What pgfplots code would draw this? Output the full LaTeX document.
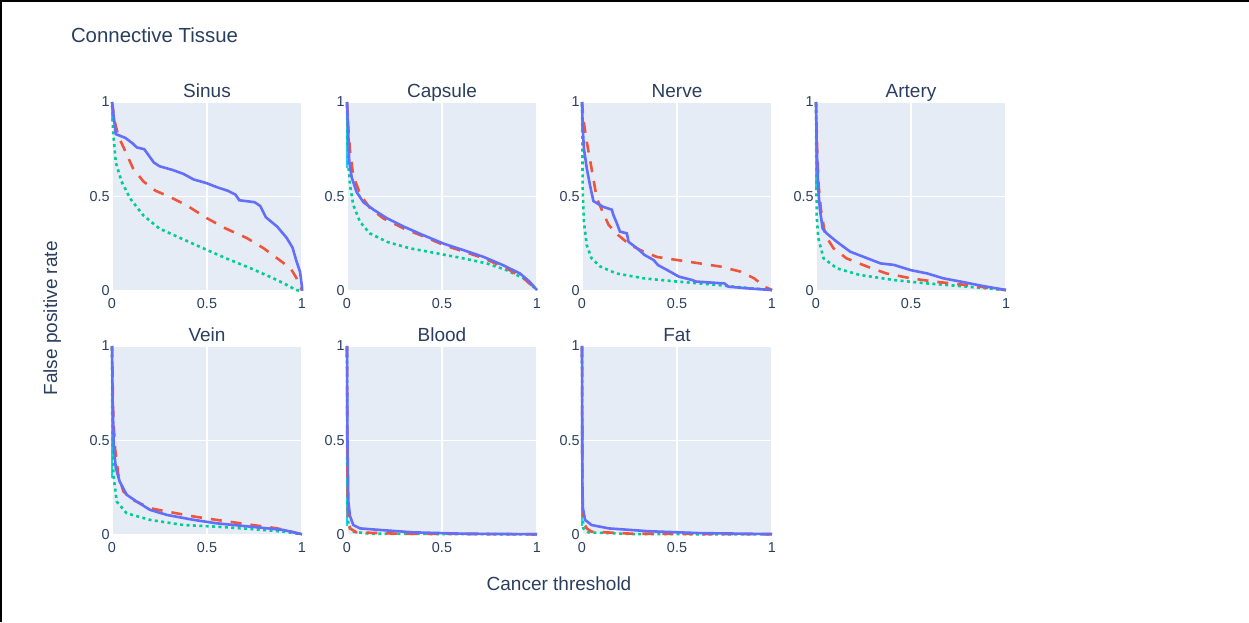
\documentclass[border=0pt]{standalone}
\usepackage{fontspec}
\setmainfont{Liberation Sans}
\usepackage{pgfplots}
\pgfplotsset{compat=1.18}

\definecolor{pbg}{HTML}{E5ECF6}
\definecolor{ptext}{HTML}{2A3F5F}
\definecolor{pblue}{HTML}{636EFA}
\definecolor{pred}{HTML}{EF553B}
\definecolor{pgreen}{HTML}{00CC96}
\definecolor{pcyan}{HTML}{19D3F3}

\pgfplotsset{
  panel/.style={
    anchor=south west,
    scale only axis, width=95pt, height=94.5pt,
    xmin=0, xmax=1, ymin=0, ymax=1,
    xtick={0,0.5,1}, ytick={0,0.5,1},
    major tick length=0pt,
    axis line style={draw=none},
    axis background/.style={fill=pbg},
    grid=major, major grid style={white, line width=0.8pt},
    tick label style={font=\fontsize{7.2}{8}\selectfont, text=ptext},
    /pgf/number format/assume math mode=true,
    xticklabel style={inner ysep=3.5pt},
    yticklabel style={inner xsep=1pt},
    clip=false,
    title style={at={(0.5,1)}, anchor=base, yshift=-4pt,
      font=\fontsize{9.5}{11}\selectfont, text=ptext},
  },
  sA/.style={pblue, line width=1.3pt, solid},
  sB/.style={pred, line width=1.3pt, dash pattern=on 5.5pt off 4.5pt},
  sC/.style={pgreen, line width=1.3pt, dash pattern=on 1.5pt off 1.7pt},
  sD/.style={pcyan, line width=0.9pt},
}

\begin{document}
\begin{tikzpicture}
\path[use as bounding box] (0,0) rectangle (624.5pt,311pt);
\fill[black] (0,309.8pt) rectangle (624.5pt,311pt);
\fill[black] (0,0) rectangle (1pt,311pt);

\node[anchor=base west, inner sep=0pt, font=\fontsize{10.2}{12}\selectfont, text=ptext] at (35.3pt,289.5pt) {Connective Tissue};
\node[anchor=base, rotate=90, font=\fontsize{9.5}{11}\selectfont, text=ptext] at (28.5pt,151.8pt) {False positive rate};
\node[anchor=base, font=\fontsize{9.5}{11}\selectfont, text=ptext] at (279.5pt,16pt) {Cancer threshold};

% Sinus
\begin{axis}[panel, at={(56pt,165.5pt)}, title={Sinus}]
\addplot[sD] coordinates {(0,1)(0,0.9)};
\addplot[sC] coordinates {(0,0.98)(0.007,0.83)(0.02,0.68)(0.05,0.58)(0.095,0.49)(0.165,0.40)(0.25,0.33)(0.36,0.28)(0.50,0.217)(0.60,0.173)(0.73,0.12)(0.85,0.067)(0.92,0.032)(0.97,0.005)(1,0)};
\addplot[sB] coordinates {(0,1)(0.016,0.89)(0.033,0.82)(0.07,0.74)(0.11,0.65)(0.165,0.58)(0.23,0.53)(0.30,0.50)(0.39,0.455)(0.50,0.385)(0.60,0.33)(0.71,0.28)(0.80,0.225)(0.88,0.165)(0.94,0.12)(0.97,0.07)(1,0.005)};
\addplot[sA] coordinates {(0,1)(0.02,0.83)(0.07,0.81)(0.11,0.78)(0.13,0.76)(0.17,0.75)(0.22,0.68)(0.25,0.66)(0.32,0.64)(0.375,0.62)(0.43,0.59)(0.50,0.57)(0.55,0.55)(0.61,0.53)(0.65,0.51)(0.67,0.48)(0.75,0.47)(0.78,0.45)(0.81,0.39)(0.87,0.34)(0.92,0.28)(0.95,0.23)(0.97,0.16)(0.99,0.10)(1,0.02)(1,0)};
\end{axis}

% Capsule
\begin{axis}[panel, at={(173.5pt,165.5pt)}, title={Capsule}]
\addplot[sD] coordinates {(0,1)(0,0.65)};
\addplot[sC] coordinates {(0,0.99)(0.0035,0.77)(0.007,0.667)(0.016,0.56)(0.033,0.455)(0.068,0.367)(0.12,0.305)(0.21,0.26)(0.33,0.226)(0.47,0.2)(0.61,0.173)(0.735,0.146)(0.84,0.11)(0.93,0.067)(0.98,0.023)(1,0.005)};
\addplot[sB] coordinates {(0,1)(0.007,0.86)(0.016,0.74)(0.033,0.61)(0.07,0.51)(0.12,0.44)(0.19,0.385)(0.30,0.33)(0.40,0.29)(0.51,0.243)(0.61,0.21)(0.72,0.173)(0.84,0.12)(0.93,0.067)(0.98,0.023)(1,0.005)};
\addplot[sA] coordinates {(0,1)(0.007,0.825)(0.012,0.685)(0.025,0.60)(0.05,0.525)(0.086,0.47)(0.14,0.43)(0.21,0.385)(0.30,0.34)(0.40,0.296)(0.51,0.25)(0.61,0.217)(0.72,0.18)(0.82,0.137)(0.91,0.093)(0.96,0.05)(1,0.005)};
\end{axis}

% Nerve
\begin{axis}[panel, at={(291pt,165.5pt)}, title={Nerve}]
\addplot[sD] coordinates {(0,1)(0,0.85)};
\addplot[sC] coordinates {(0,0.99)(0.002,0.77)(0.0035,0.54)(0.01,0.367)(0.025,0.243)(0.05,0.173)(0.095,0.13)(0.18,0.093)(0.325,0.067)(0.50,0.05)(0.68,0.035)(0.85,0.018)(1,0.005)};
\addplot[sB] coordinates {(0,1)(0.007,0.91)(0.025,0.79)(0.05,0.65)(0.078,0.49)(0.104,0.43)(0.14,0.35)(0.19,0.296)(0.254,0.243)(0.325,0.208)(0.395,0.18)(0.50,0.164)(0.62,0.146)(0.73,0.129)(0.836,0.102)(0.906,0.067)(0.96,0.023)(1,0.005)};
\addplot[sA] coordinates {(0,1)(0.004,0.86)(0.01,0.755)(0.025,0.65)(0.042,0.56)(0.06,0.476)(0.086,0.46)(0.11,0.446)(0.157,0.43)(0.166,0.40)(0.18,0.367)(0.20,0.314)(0.236,0.305)(0.245,0.26)(0.29,0.226)(0.33,0.19)(0.377,0.164)(0.40,0.137)(0.45,0.11)(0.51,0.076)(0.58,0.058)(0.60,0.05)(0.66,0.046)(0.75,0.04)(0.77,0.023)(0.87,0.014)(1,0.005)};
\end{axis}

% Artery
\begin{axis}[panel, at={(408pt,165.5pt)}, title={Artery}]
\addplot[sD] coordinates {(0,1)(0,0.55)};
\addplot[sC] coordinates {(0,0.99)(0.002,0.6)(0.0035,0.40)(0.012,0.28)(0.04,0.173)(0.11,0.12)(0.23,0.085)(0.41,0.058)(0.585,0.04)(0.76,0.026)(1,0.005)};
\addplot[sB] coordinates {(0,1)(0.007,0.72)(0.014,0.56)(0.025,0.437)(0.048,0.296)(0.092,0.226)(0.16,0.173)(0.27,0.129)(0.37,0.093)(0.50,0.067)(0.62,0.05)(0.76,0.035)(0.90,0.018)(1,0.005)};
\addplot[sA] coordinates {(0,1)(0.0035,0.77)(0.012,0.54)(0.02,0.437)(0.035,0.33)(0.056,0.305)(0.11,0.26)(0.18,0.208)(0.27,0.173)(0.34,0.146)(0.41,0.138)(0.50,0.11)(0.585,0.093)(0.67,0.067)(0.76,0.05)(0.87,0.028)(1,0.005)};
\end{axis}

% Vein
\begin{axis}[panel, at={(56pt,43.5pt)}, title={Vein}]
\addplot[sD] coordinates {(0,1)(0,0.3)};
\addplot[sC] coordinates {(0,0.99)(0.002,0.53)(0.007,0.32)(0.025,0.177)(0.077,0.115)(0.2,0.08)(0.375,0.053)(0.55,0.044)(0.73,0.032)(0.90,0.018)(1,0.004)};
\addplot[sB] coordinates {(0,1)(0.007,0.62)(0.016,0.46)(0.033,0.32)(0.06,0.23)(0.11,0.186)(0.2,0.142)(0.29,0.124)(0.43,0.098)(0.55,0.08)(0.71,0.057)(0.87,0.035)(1,0.004)};
\addplot[sA] coordinates {(0,1)(0.0035,0.71)(0.01,0.46)(0.02,0.355)(0.04,0.284)(0.077,0.213)(0.13,0.177)(0.2,0.133)(0.29,0.106)(0.43,0.08)(0.55,0.062)(0.73,0.044)(0.90,0.027)(1,0.004)};
\end{axis}

% Blood
\begin{axis}[panel, at={(173.5pt,43.5pt)}, title={Blood}]
\addplot[sD] coordinates {(0,1)(0,0.05)};
\addplot[sC] coordinates {(0,0.99)(0.002,0.18)(0.007,0.053)(0.025,0.018)(0.12,0.007)(1,0.003)};
\addplot[sB] coordinates {(0,1)(0.002,0.355)(0.005,0.09)(0.016,0.035)(0.05,0.014)(0.26,0.007)(1,0.004)};
\addplot[sA] coordinates {(0,1)(0.002,0.53)(0.007,0.177)(0.016,0.1)(0.033,0.053)(0.068,0.035)(0.17,0.027)(0.35,0.014)(0.61,0.007)(1,0.004)};
\end{axis}

% Fat
\begin{axis}[panel, at={(291pt,43.5pt)}, title={Fat}]
\addplot[sD] coordinates {(0,1)(0,0.05)};
\addplot[sC] coordinates {(0,0.99)(0.002,0.12)(0.007,0.035)(0.034,0.014)(0.26,0.005)(1,0.003)};
\addplot[sB] coordinates {(0,1)(0.002,0.18)(0.007,0.07)(0.025,0.035)(0.05,0.018)(0.26,0.007)(1,0.004)};
\addplot[sA] coordinates {(0,1)(0.002,0.27)(0.005,0.14)(0.016,0.08)(0.05,0.053)(0.14,0.035)(0.35,0.02)(0.62,0.01)(1,0.005)};
\end{axis}
\end{tikzpicture}
\end{document}
